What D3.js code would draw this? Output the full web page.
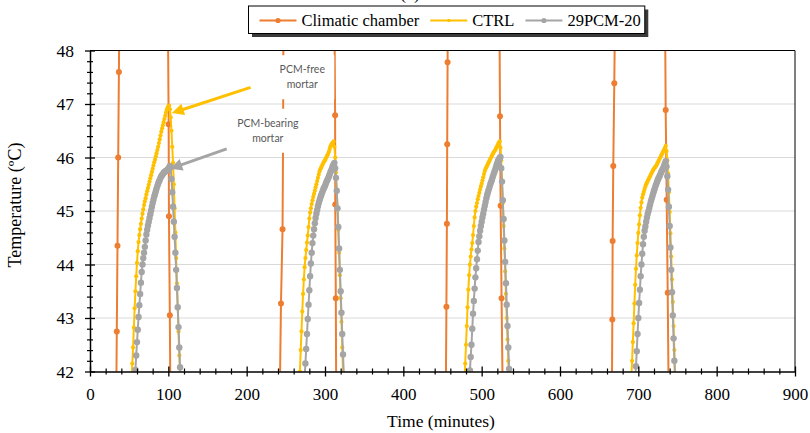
<!DOCTYPE html>
<html><head><meta charset="utf-8">
<script src="https://cdn.jsdelivr.net/npm/d3@7"></script>
<style>body{margin:0;background:#fff}svg{display:block}</style>
</head><body>
<svg id="chart" width="810" height="433"></svg>
<script>
// ---------------- data ----------------
const seriesNames = ["Climatic chamber", "CTRL", "29PCM-20"];
const seriesColors = ["#ED7D31", "#FFC000", "#A5A5A5"];
const xTicks = [0, 100, 200, 300, 400, 500, 600, 700, 800, 900];
const yTicks = [42, 43, 44, 45, 46, 47, 48];

// Climatic chamber (only the steep legs crossing 42–48 °C are visible)
const chamberTime = [33.3, 34.2, 35.1, 36.0, 36.9, 37.8,
  99.6, 100.4, 100.8, 101.9, 102.8,
  242.5, 243.8, 245.8, 246.4, 246.7, 247.0,
  312.2, 312.9, 313.1, 313.8, 314.3,
  454.3, 455.0, 455.6, 456.0, 456.5, 457.0,
  522.8, 523.4, 524.2, 525.4, 526.8,
  666.2, 666.8, 667.2, 668.0, 669.3, 670.4,
  734.2, 734.9, 736.2, 737.5, 738.6];
const chamberTemp = [41.1, 42.75, 44.35, 46.0, 47.6, 49.2,
  48.35, 46.62, 44.9, 43.05, 41.2,
  41.8, 43.27, 44.66, 46.15, 47.45, 48.85,
  48.45, 46.79, 45.12, 43.37, 41.6,
  41.7, 43.21, 44.76, 46.25, 47.78, 49.3,
  48.45, 46.77, 45.1, 43.37, 41.65,
  41.5, 42.97, 44.44, 45.84, 47.39, 48.95,
  48.5, 46.89, 45.21, 43.47, 41.7];

// CTRL – sampled every minute from the cycle start time
const ctrlStart = [53, 267, 478, 691];
const ctrlCycle1 = [41.85, 42.15, 42.45, 42.82, 43.18, 43.5, 43.78, 44.03, 44.25, 44.42, 44.55, 44.66, 44.76, 44.86, 44.95, 45.03, 45.11, 45.18, 45.24, 45.31, 45.37, 45.43, 45.49, 45.55, 45.61, 45.67, 45.73, 45.79, 45.85, 45.91, 45.96, 46.02, 46.08, 46.14, 46.2, 46.27, 46.34, 46.41, 46.48, 46.54, 46.6, 46.66, 46.72, 46.78, 46.84, 46.89, 46.93, 46.96, 46.97, 46.9, 46.75, 46.5, 46.2, 45.9, 45.5, 45.05, 44.6, 44.12, 43.65, 43.2, 42.75, 42.3, 41.9];
const ctrlCycle2 = [41.7, 42.0, 42.4, 42.75, 43.12, 43.45, 43.72, 43.95, 44.12, 44.27, 44.41, 44.54, 44.7, 44.86, 44.97, 45.05, 45.13, 45.2, 45.26, 45.32, 45.38, 45.44, 45.5, 45.56, 45.62, 45.68, 45.74, 45.78, 45.81, 45.84, 45.87, 45.9, 45.93, 45.95, 45.98, 46.01, 46.04, 46.07, 46.11, 46.16, 46.21, 46.24, 46.26, 46.28, 46.3, 46.2, 46.0, 45.72, 45.4, 45.03, 44.65, 44.22, 43.8, 43.37, 42.93, 42.45, 41.98, 41.6];
const ctrlCycle3 = [41.75, 42.15, 42.5, 42.85, 43.2, 43.53, 43.8, 44.0, 44.15, 44.28, 44.4, 44.55, 44.72, 44.88, 45.0, 45.08, 45.15, 45.22, 45.28, 45.34, 45.4, 45.46, 45.51, 45.57, 45.63, 45.69, 45.75, 45.79, 45.82, 45.85, 45.88, 45.91, 45.94, 45.97, 46.0, 46.03, 46.06, 46.09, 46.11, 46.13, 46.16, 46.19, 46.22, 46.25, 46.28, 46.3, 46.18, 45.95, 45.55, 45.15, 44.72, 44.3, 43.87, 43.45, 43.0, 42.6, 42.2, 41.8];
const ctrlCycle4 = [41.85, 42.2, 42.55, 42.9, 43.27, 43.62, 43.92, 44.17, 44.4, 44.59, 44.75, 44.92, 45.06, 45.16, 45.25, 45.31, 45.36, 45.41, 45.46, 45.5, 45.53, 45.56, 45.59, 45.62, 45.65, 45.68, 45.71, 45.74, 45.77, 45.79, 45.81, 45.83, 45.85, 45.88, 45.91, 45.94, 45.97, 46.0, 46.03, 46.06, 46.09, 46.12, 46.15, 46.18, 46.22, 46.12, 45.95, 45.7, 45.35, 44.98, 44.58, 44.15, 43.72, 43.3, 42.85, 42.4, 41.95];

// 29PCM-20 – sampled every minute from the cycle start time
const pcmStart = [57, 274, 484, 696];
const pcmCycle1 = [41.85, 42.03, 42.3, 42.55, 42.78, 43.02, 43.24, 43.45, 43.66, 43.86, 44.0, 44.12, 44.22, 44.33, 44.45, 44.56, 44.65, 44.73, 44.8, 44.87, 44.94, 45.01, 45.08, 45.15, 45.21, 45.27, 45.32, 45.37, 45.42, 45.47, 45.51, 45.55, 45.58, 45.62, 45.65, 45.67, 45.69, 45.71, 45.73, 45.74, 45.75, 45.76, 45.77, 45.79, 45.81, 45.84, 45.82, 45.6, 45.35, 45.08, 44.8, 44.52, 44.22, 43.9, 43.56, 43.2, 42.83, 42.45, 42.08, 41.8];
const pcmCycle2 = [41.9, 42.15, 42.42, 42.7, 42.98, 43.25, 43.52, 43.78, 44.02, 44.22, 44.4, 44.54, 44.66, 44.77, 44.87, 44.95, 45.02, 45.09, 45.15, 45.2, 45.25, 45.29, 45.33, 45.37, 45.41, 45.44, 45.47, 45.51, 45.55, 45.58, 45.61, 45.65, 45.69, 45.73, 45.76, 45.8, 45.84, 45.87, 45.9, 45.8, 45.62, 45.38, 45.05, 44.7, 44.3, 43.9, 43.5, 43.1, 42.7, 42.32, 41.95];
const pcmCycle3 = [41.8, 42.02, 42.27, 42.5, 42.8, 43.08, 43.32, 43.55, 43.76, 43.93, 44.1, 44.26, 44.42, 44.53, 44.63, 44.72, 44.8, 44.88, 44.95, 45.03, 45.1, 45.17, 45.24, 45.3, 45.35, 45.4, 45.45, 45.5, 45.54, 45.58, 45.63, 45.68, 45.72, 45.76, 45.81, 45.86, 45.9, 45.94, 45.97, 45.99, 46.01, 45.8, 45.55, 45.2, 44.85, 44.45, 44.05, 43.65, 43.25, 42.85, 42.45, 42.05, 41.7];
const pcmCycle4 = [41.85, 42.1, 42.38, 42.7, 43.0, 43.28, 43.53, 43.78, 44.0, 44.2, 44.38, 44.52, 44.63, 44.71, 44.8, 44.88, 44.95, 45.0, 45.06, 45.12, 45.18, 45.23, 45.28, 45.33, 45.38, 45.42, 45.47, 45.51, 45.55, 45.59, 45.62, 45.65, 45.68, 45.72, 45.75, 45.78, 45.81, 45.85, 45.89, 45.93, 45.83, 45.65, 45.4, 45.08, 44.72, 44.32, 43.9, 43.48, 43.05, 42.62, 42.2, 41.8];

// annotations (data units)
const noteFree = { label: ["PCM-free", "mortar"], t: 271, T: 47.5 };
const noteBearing = { label: ["PCM-bearing", "mortar"], t: 227, T: 46.5 };
const arrowFree = { from: [205, 47.31], to: [104.5, 46.83] };
const arrowBearing = { from: [174.5, 46.16], to: [102.5, 45.79] };

// ---------------- build ----------------
const svg = d3.select("#chart");
const L = 90, R = 795, T = 50.5, B = 371.5;
const x = d3.scaleLinear().domain([0, 900]).range([L, R]);
const y = d3.scaleLinear().domain([42, 48]).range([B, T]);
const serif = "'Liberation Serif','Times New Roman',serif";

function cycles(starts, arrs) {
  return arrs.map((a, k) => a.map((v, i) => ({ t: starts[k] + i, v })));
}
const chamber = [chamberTime.map((t, i) => ({ t, v: chamberTemp[i] }))];
const ctrl = cycles(ctrlStart, [ctrlCycle1, ctrlCycle2, ctrlCycle3, ctrlCycle4]);
const pcm = cycles(pcmStart, [pcmCycle1, pcmCycle2, pcmCycle3, pcmCycle4]);

// title (mostly cut off at top, as in the original figure)
svg.append("text").attr("x", 410).attr("y", -1).attr("text-anchor", "middle")
  .attr("font-family", serif).attr("font-size", 18).text("(a)");

// gridlines
svg.append("g").selectAll("line").data(yTicks.filter(v => v > 42 && v < 48)).join("line")
  .attr("x1", L).attr("x2", R).attr("y1", d => y(d)).attr("y2", d => y(d))
  .attr("stroke", "#D9D9D9").attr("stroke-width", 1);

// clip
svg.append("defs").append("clipPath").attr("id", "plot")
  .append("rect").attr("x", L).attr("y", T).attr("width", R - L).attr("height", B - T);

const line = d3.line().x(d => x(d.t)).y(d => y(d.v));
const plot = svg.append("g").attr("clip-path", "url(#plot)");

function drawSeries(data, color, lw, r) {
  const g = plot.append("g");
  g.selectAll("path").data(data).join("path").attr("d", line)
    .attr("fill", "none").attr("stroke", color).attr("stroke-width", lw).attr("stroke-linejoin", "round");
  g.selectAll("circle").data(data.flat().filter(d => d.v >= 41.8 && d.v <= 48.2)).join("circle")
    .attr("cx", d => x(d.t)).attr("cy", d => y(d.v)).attr("r", r).attr("fill", color);
}
drawSeries(chamber, seriesColors[0], 2, 3);
drawSeries(ctrl, seriesColors[1], 2, 2.1);
drawSeries(pcm, seriesColors[2], 2, 3.2);

// annotation text boxes (white background)
function note(n, w) {
  const cx = x(n.t), cy = y(n.T);
  const g = svg.append("g");
  g.append("rect").attr("x", cx - w / 2).attr("y", cy - 22).attr("width", w).attr("height", 44).attr("fill", "#fff");
  g.selectAll("text").data(n.label).join("text")
    .attr("x", cx).attr("y", (d, i) => cy - 4 + i * 15)
    .attr("text-anchor", "middle").attr("font-family", "Lato, 'Open Sans', sans-serif")
    .attr("font-size", 10.5).attr("fill", "#595959").text(d => d);
}
note(noteFree, 64);
note(noteBearing, 66);

// arrows
function arrow(a, color) {
  const x0 = x(a.from[0]), y0 = y(a.from[1]), x1 = x(a.to[0]), y1 = y(a.to[1]);
  const dx = x1 - x0, dy = y1 - y0, len = Math.hypot(dx, dy);
  const ux = dx / len, uy = dy / len, hl = 12, hw = 6;
  const bx = x1 - ux * hl, by = y1 - uy * hl;
  const g = svg.append("g");
  g.append("line").attr("x1", x0).attr("y1", y0).attr("x2", bx + ux * 2).attr("y2", by + uy * 2)
    .attr("stroke", color).attr("stroke-width", 3);
  g.append("path").attr("d", `M${x1},${y1}L${bx - uy * hw},${by + ux * hw}L${bx + uy * hw},${by - ux * hw}Z`)
    .attr("fill", color);
}
arrow(arrowFree, seriesColors[1]);
arrow(arrowBearing, seriesColors[2]);

// frame
svg.append("line").attr("x1", L).attr("x2", R).attr("y1", T).attr("y2", T).attr("stroke", "#000").attr("stroke-width", 1);
svg.append("line").attr("x1", R).attr("x2", R).attr("y1", T).attr("y2", B).attr("stroke", "#000").attr("stroke-width", 1);

// axes
const yMinor = d3.range(42, 48.001, 0.2).filter(v => Math.abs(v - Math.round(v)) > 0.01);
const xMinor = d3.range(0, 901, 20).filter(v => v % 100 !== 0);

const gy = svg.append("g").attr("transform", `translate(${L},0)`);
gy.call(d3.axisLeft(y).tickValues(yTicks).tickSize(5).tickSizeOuter(0).tickPadding(11).tickFormat(d3.format("d")));
gy.selectAll(".tick line").attr("x1", 5).attr("stroke-width", 1.3);
gy.select(".domain").attr("stroke-width", 1.5);
gy.selectAll("text").attr("font-family", serif).attr("font-size", 17.5).attr("fill", "#000");
const gym = svg.append("g").attr("transform", `translate(${L},0)`);
gym.call(d3.axisLeft(y).tickValues(yMinor).tickSize(3).tickFormat(""));
gym.select(".domain").remove();
gym.selectAll(".tick line").attr("x1", 3).attr("stroke-width", 1.2);

const gx = svg.append("g").attr("transform", `translate(0,${B})`);
gx.call(d3.axisBottom(x).tickValues(xTicks).tickSize(5).tickSizeOuter(0).tickPadding(11));
gx.selectAll(".tick line").attr("y1", -5).attr("stroke-width", 1.3);
gx.select(".domain").attr("stroke-width", 1.5);
gx.selectAll("text").attr("font-family", serif).attr("font-size", 17).attr("fill", "#000");
const gxm = svg.append("g").attr("transform", `translate(0,${B})`);
gxm.call(d3.axisBottom(x).tickValues(xMinor).tickSize(3).tickFormat(""));
gxm.select(".domain").remove();
gxm.selectAll(".tick line").attr("y1", -3).attr("stroke-width", 1.2);

// axis titles
svg.append("text").attr("x", 441).attr("y", 427).attr("text-anchor", "middle")
  .attr("font-family", serif).attr("font-size", 17.5).text("Time (minutes)");
svg.append("text").attr("transform", `translate(21,${(T + B) / 2 - 6}) rotate(-90)`)
  .attr("text-anchor", "middle").attr("font-family", serif).attr("font-size", 18).text("Temperature (ºC)");

// legend
const lg = svg.append("g");
const shadow = lg.append("rect").attr("fill", "#3a3a3a");
const box = lg.append("rect").attr("fill", "#fff").attr("stroke", "#000").attr("stroke-width", 1);
let cx = 259.5;
const ly = 20.5;
seriesNames.forEach((name, i) => {
  lg.append("line").attr("x1", cx).attr("x2", cx + 37).attr("y1", ly).attr("y2", ly)
    .attr("stroke", seriesColors[i]).attr("stroke-width", 2);
  lg.append("circle").attr("cx", cx + 18.5).attr("cy", ly).attr("r", i === 1 ? 1.7 : 2.6).attr("fill", seriesColors[i]);
  const t = lg.append("text").attr("x", cx + 42).attr("y", ly + 5.5).attr("font-family", serif)
    .attr("font-size", 16.5).text(name);
  cx += 42 + t.node().getComputedTextLength() + 11;
});
const bx0 = 248.5, bw = cx - 11 + 4 - bx0;
box.attr("x", bx0).attr("y", 6).attr("width", bw).attr("height", 27.5);
shadow.attr("x", bx0 + 3.5).attr("y", 9.5).attr("width", bw).attr("height", 27.5);
</script>
</body></html>
